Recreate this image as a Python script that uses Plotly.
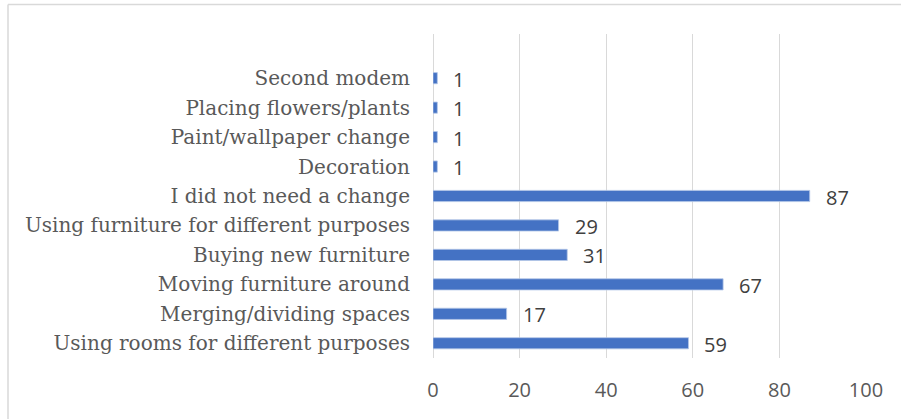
import plotly.graph_objects as go

# Survey responses: changes made to the home (bottom to top)
categories = [
    "Using rooms for different purposes",
    "Merging/dividing spaces",
    "Moving furniture around",
    "Buying new furniture",
    "Using furniture for different purposes",
    "I did not need a change",
    "Decoration",
    "Paint/wallpaper change",
    "Placing flowers/plants",
    "Second modem",
]
counts = [59, 17, 67, 31, 29, 87, 1, 1, 1, 1]
x_ticks = [0, 20, 40, 60, 80, 100]

W, H = 901, 419
L, R, T, B = 433, 35, 34, 61
plot_w = W - L - R
plot_h = H - T - B

BAR = "#4472C4"
GRID = "#D9D9D9"
TXT = "#595959"

fig = go.Figure(
    go.Bar(
        x=counts,
        y=categories,
        orientation="h",
        marker=dict(color=BAR, line=dict(color="#B4C7E7", width=0.8)),
        width=0.38,
        hoverinfo="skip",
    )
)

# value labels to the right of each bar
for c, v in zip(categories, counts):
    fig.add_annotation(
        x=v, y=c, text=str(v), showarrow=False,
        xanchor="left", yanchor="middle", xshift=14, yshift=-1,
        font=dict(family="Open Sans", size=20, color="#404040"),
    )


def px_x(p):
    return (p - L) / plot_w


def px_y(p):
    return 1 - (p - T) / plot_h


# light chart-area frame
frame = dict(type="line", xref="paper", yref="paper", line=dict(color=GRID, width=1.5))
fig.add_shape(**frame, x0=px_x(8), x1=px_x(901), y0=px_y(4.5), y1=px_y(4.5))
fig.add_shape(**frame, x0=px_x(8), x1=px_x(8), y0=px_y(4.5), y1=px_y(419))

fig.update_layout(
    width=W, height=H,
    margin=dict(l=L, r=R, t=T, b=B, pad=0),
    paper_bgcolor="white", plot_bgcolor="white",
    showlegend=False,
    xaxis=dict(
        range=[0, 100], tickvals=x_ticks,
        showgrid=True, gridcolor=GRID, gridwidth=1.3,
        zeroline=True, zerolinecolor=GRID, zerolinewidth=1.3,
        showline=False, ticks="",
        tickfont=dict(family="Open Sans", size=20, color=TXT),
        ticklabelstandoff=18,
        fixedrange=True,
    ),
    yaxis=dict(
        range=[-0.5, 10.5],
        showgrid=False, zeroline=False, showline=False, ticks="",
        tickfont=dict(family="DejaVu Serif", size=20, color=TXT),
        ticklabelstandoff=22,
        fixedrange=True,
    ),
)

fig.write_html("out.html")
